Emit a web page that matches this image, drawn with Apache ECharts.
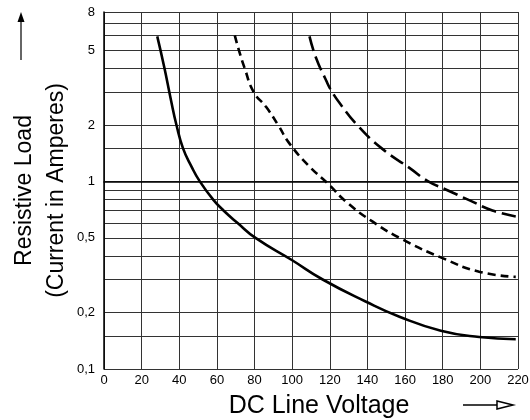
<!DOCTYPE html>
<html>
<head>
<meta charset="utf-8">
<script src="https://cdn.jsdelivr.net/npm/echarts@6/dist/echarts.min.js"></script>
<style>
  html, body { margin: 0; padding: 0; background: #fff; }
  #chart { width: 530px; height: 420px; }
</style>
</head>
<body>
<div id="chart"></div>
<script>
// x axis (DC line voltage)
const xLabels = [0, 20, 40, 60, 80, 100, 120, 140, 160, 180, 200, 220]
// y axis (current, log scale)
const yGridValues = [0.1, 0.15, 0.2, 0.3, 0.4, 0.5, 0.6, 0.7, 0.8, 0.9, 1, 1.5, 2, 3, 4, 5, 6, 7, 8]
const yLabelValues = [0.1, 0.2, 0.5, 1, 2, 5, 8]

// solid curve
const solidVoltage = [28.3, 32, 35.6, 38.5, 42, 46.5, 50.9, 58, 63.5, 71, 80.5, 100, 116.2, 139, 157, 179, 199.4, 218.8]
const solidCurrent = [5.93, 4.07, 2.71, 2.0, 1.5, 1.2, 1.0, 0.8, 0.7, 0.6, 0.5, 0.38, 0.3, 0.229, 0.19, 0.16, 0.148, 0.144]

// short dashed curve
const shortDashVoltage = [69.5, 71.7, 74.8, 79.5, 86.2, 92.5, 98.6, 109.2, 118.9, 128.6, 142.8, 158.7, 179.9, 199.4, 218.8]
const shortDashCurrent = [6.0, 5.0, 4.0, 3.0, 2.49, 2.0, 1.59, 1.2, 0.976, 0.78, 0.61, 0.49, 0.39, 0.33, 0.31]

// long dashed curve
const longDashVoltage = [109.2, 112.7, 118, 120.7, 125.4, 134.5, 147.6, 162.3, 172.3, 181.6, 194, 206.4, 218.8]
const longDashCurrent = [5.93, 4.55, 3.46, 3.06, 2.6, 2.0, 1.5, 1.18, 1.0, 0.906, 0.795, 0.7, 0.65]

const lg = v => Math.log10(v)
const toPoints = (xs, ys) => xs.map((x, i) => [x, lg(ys[i])])
const fmtY = v => String(Number(Math.pow(10, v).toPrecision(2))).replace('.', ',')

const chart = echarts.init(document.getElementById('chart'))

const curve = (name, xs, ys, type) => ({
  name,
  type: 'line',
  smooth: 0.5,
  showSymbol: false,
  silent: true,
  lineStyle: { color: '#000', width: 2.6, type },
  data: toPoints(xs, ys)
})

const option = {
  animation: false,
  backgroundColor: '#fff',
  textStyle: { fontFamily: 'Liberation Sans, Arial, sans-serif' },
  grid: { left: 104, right: 12, top: 12, bottom: 51, containLabel: false, outerBoundsMode: 'none' },
  xAxis: {
    type: 'value',
    min: 0,
    max: 220,
    interval: 20,
    name: 'DC Line Voltage',
    nameLocation: 'middle',
    nameGap: 25,
    nameMoveOverlap: false,
    nameTextStyle: { fontSize: 25, color: '#000', padding: [0, 0, 0, 16] },
    axisLine: { show: true, lineStyle: { color: '#000', width: 1.5 } },
    axisTick: { show: false },
    axisLabel: { color: '#000', fontSize: 13, margin: 5, formatter: v => (xLabels.includes(v) ? String(v) : '') },
    splitLine: { show: true, lineStyle: { color: '#333', width: 1 } }
  },
  yAxis: {
    type: 'value',
    min: lg(yGridValues[0]),
    max: lg(yGridValues[yGridValues.length - 1]),
    name: 'Resistive Load\n(Current in Amperes)',
    nameLocation: 'middle',
    nameRotate: 90,
    nameGap: 31,
    nameMoveOverlap: false,
    nameTextStyle: { fontSize: 23, color: '#000', lineHeight: 32 },
    axisLine: { show: true, lineStyle: { color: '#000', width: 1.5 } },
    axisTick: { show: false, customValues: yGridValues.map(lg) },
    axisLabel: { color: '#000', fontSize: 13, margin: 9, customValues: yLabelValues.map(lg), formatter: fmtY },
    splitLine: { show: true, lineStyle: { color: '#333', width: 1 } }
  },
  graphic: [
    { type: 'line', shape: { x1: 21, y1: 60, x2: 21, y2: 20 }, style: { stroke: '#333', lineWidth: 1.5 } },
    { type: 'polygon', shape: { points: [[21, 12], [17.5, 22], [24.5, 22]] }, style: { fill: '#000' } },
    { type: 'line', shape: { x1: 463, y1: 405, x2: 503, y2: 405 }, style: { stroke: '#000', lineWidth: 1.5 } },
    { type: 'polygon', shape: { points: [[513, 405], [497, 401], [497, 409]] }, style: { fill: '#fff', stroke: '#000', lineWidth: 1.5 } }
  ],
  series: [
    curve('solid', solidVoltage, solidCurrent, 'solid'),
    curve('shortDash', shortDashVoltage, shortDashCurrent, [8, 5]),
    curve('longDash', longDashVoltage, longDashCurrent, [15, 6])
  ]
}

chart.setOption(option)
</script>
</body>
</html>
